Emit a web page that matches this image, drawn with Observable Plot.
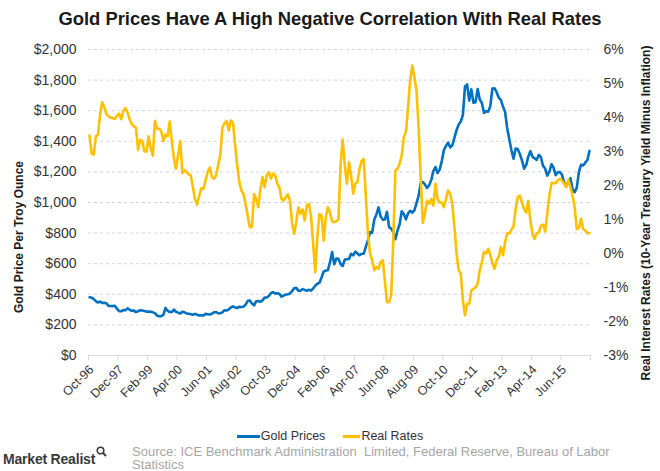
<!DOCTYPE html>
<html>
<head>
<meta charset="utf-8">
<script src="https://cdn.jsdelivr.net/npm/d3@7"></script>
<script src="https://cdn.jsdelivr.net/npm/@observablehq/plot@0.6"></script>
<style>
  body { margin: 0; background: #fff; font-family: "Liberation Sans", Arial, sans-serif; }
  #wrap { position: relative; width: 660px; height: 471px; overflow: hidden; background: #fff; }
  #title { position: absolute; top: 0; left: 0; width: 660px; height: 36px; line-height: 37px; text-align: center;
           font-weight: bold; font-size: 18.4px; color: #1a1a1a; white-space: nowrap; }
  #chart { position: absolute; top: 36px; left: 0; }
  .ytitle { position: absolute; font-weight: bold; font-size: 12px; color: #1a1a1a; white-space: nowrap;
            transform: translate(-50%, -50%) rotate(-90deg); }
  #legend { position: absolute; top: 429px; left: 0; width: 660px; height: 15px; line-height: 15px; display: flex; justify-content: center;
            align-items: center; font-size: 12.5px; color: #333; }
  .sw { display: inline-block; width: 23px; height: 3px; margin-right: 1px; }
  #logo { position: absolute; left: 3px; top: 446px; font-size: 14px; color: #3a3a3a; letter-spacing: -0.2px; font-weight: 600; white-space: nowrap; }
  #source { position: absolute; left: 132px; top: 444.5px; width: 520px; font-family: "Liberation Sans", Arial, sans-serif;
            font-size: 13px; line-height: 13.5px; color: #a6a6a6; white-space: nowrap; }
</style>
</head>
<body>
<div id="wrap">
  <div id="title">Gold Prices Have A High Negative Correlation With Real Rates</div>
  <div id="chart"></div>
  <div class="ytitle" style="left:19px; top:237px;">Gold Price Per Troy Ounce</div>
  <div class="ytitle" style="left:646px; top:213px;">Real Interest Rates (10-Year Treasury Yield Minus Inflation)</div>
  <div id="legend">
    <span class="sw" style="background:#0070C0"></span><span>Gold Prices</span>
    <span style="display:inline-block;width:18px"></span>
    <span class="sw" style="background:#FFC000;width:17px"></span><span>Real Rates</span>
  </div>
  <div id="logo">Market Realist<svg width="11" height="11" style="vertical-align:7px;margin-left:1px"><circle cx="4.5" cy="4.5" r="3.3" fill="none" stroke="#3a3a3a" stroke-width="1.6"/><line x1="7" y1="7" x2="10" y2="10" stroke="#3a3a3a" stroke-width="2"/></svg></div>
  <div id="source">Source: ICE Benchmark Administration&nbsp; Limited, Federal Reserve, Bureau of Labor<br>Statistics</div>
</div>
<script>
// Monthly categories: Oct-1996 .. Jul-2016
const months = d3.utcMonths(new Date(Date.UTC(1996, 9, 1)), new Date(Date.UTC(2016, 7, 1)));

// Gold price, US$ per troy ounce (monthly)
const goldPrices = [
  381, 378, 369,
  355, 346, 352, 344, 344, 341, 324, 324, 323, 325, 306, 289,
  289, 297, 296, 308, 299, 292, 293, 284, 289, 296, 294, 291,
  287, 287, 286, 282, 277, 261, 256, 257, 265, 311, 293, 284,
  284, 300, 286, 280, 275, 286, 282, 275, 273, 270, 266, 272,
  266, 262, 263, 261, 272, 270, 268, 273, 283, 283, 276, 276,
  282, 296, 294, 302, 314, 321, 314, 310, 319, 317, 319, 333,
  357, 359, 340, 328, 355, 356, 351, 360, 379, 379, 389, 407,
  414, 405, 406, 404, 384, 392, 398, 400, 405, 420, 439, 442,
  424, 423, 434, 429, 422, 430, 424, 438, 456, 469, 476, 510,
  549, 555, 557, 610, 676, 596, 633, 632, 598, 585, 627, 629,
  631, 665, 655, 679, 667, 655, 665, 665, 712, 754, 806, 803,
  889, 922, 968, 909, 888, 889, 939, 839, 829, 806, 760, 816,
  858, 943, 924, 890, 929, 946, 934, 949, 996, 1043, 1127, 1134,
  1118, 1095, 1113, 1148, 1205, 1232, 1193, 1215, 1271, 1343, 1370, 1391,
  1360, 1374, 1424, 1473, 1510, 1529, 1573, 1759, 1772, 1666, 1739, 1652,
  1656, 1742, 1673, 1650, 1585, 1596, 1594, 1630, 1745, 1747, 1721, 1685,
  1671, 1627, 1593, 1487, 1414, 1343, 1286, 1352, 1349, 1317, 1275, 1221,
  1244, 1300, 1336, 1299, 1288, 1279, 1311, 1296, 1239, 1222, 1176, 1201,
  1250, 1227, 1179, 1198, 1199, 1181, 1128, 1118, 1125, 1159, 1086, 1068,
  1097, 1200, 1246, 1242, 1260, 1276, 1337
];

// Real rates, % (10-year Treasury yield minus inflation)
const realRates = [
  3.47, 2.93, 2.91, 3.45, 3.5, 4.1, 4.45, 4.3, 4.1, 4.03,
  4.0, 3.98, 3.96, 4.05, 4.11, 3.95, 4.19, 4.28, 4.15, 3.95,
  3.8, 3.74, 3.7, 3.05, 3.34, 3.3, 3.0, 3.0, 3.45, 3.1,
  2.88, 3.9, 3.67, 3.67, 3.6, 3.3, 3.5, 3.45, 3.88, 3.3,
  2.8, 2.49, 2.9, 3.3, 2.36, 2.45, 2.4, 2.33, 2.29, 1.95,
  1.6, 1.44, 1.7, 1.92, 1.9, 2.15, 2.4, 2.53, 2.25, 2.2,
  2.3, 2.6, 2.9, 3.72, 3.83, 3.9, 3.62, 3.91, 3.85, 3.2,
  2.6, 2.1, 1.85, 1.75, 1.45, 1.1, 0.77, 0.78, 1.75, 1.6,
  1.36, 1.9, 2.25, 1.95, 2.3, 2.39, 2.2, 2.35, 2.3, 2.05,
  1.95, 1.6, 1.55, 1.65, 1.74, 1.55, 0.9, 0.58, 0.92, 1.36,
  1.17, 1.3, 0.97, 1.41, 1.46, 1.1, 0.3, -0.55, 0.5, 1.16,
  1.12, 0.38, 1.07, 1.36, 1.2, 0.95, 0.92, 0.95, 1.0, 2.6,
  3.35, 2.6, 2.05, 2.69, 2.3, 1.76, 2.05, 2.1, 2.49, 2.73,
  2.78, 1.66, 0.58, 0.0, -0.2, -0.49, -0.4, -0.45, -0.25, -0.2,
  -0.8, -1.43, -1.43, -1.23, 0.38, 2.44, 2.49, 2.64, 2.88, 3.42,
  3.57, 4.3, 5.09, 5.53, 5.19, 4.8, 3.7, 2.2, 0.9, 1.17,
  1.55, 1.46, 1.6, 1.41, 2.05, 1.6, 1.5, 1.5, 1.36, 1.61,
  1.85, 1.75, 1.46, 0.77, 0.0, -0.49, -0.59, -1.38, -1.82, -1.48,
  -1.48, -1.09, -1.04, -1.0, -0.89, -0.49, -0.25, 0.04, 0.0, 0.14,
  -0.05, -0.28, -0.45, -0.2, -0.1, 0.19, -0.05, 0.33, 0.6, 0.58,
  0.7, 0.8, 1.3, 1.66, 1.7, 1.5, 1.31, 1.2, 1.55, 0.97,
  0.58, 0.43, 0.6, 0.62, 0.82, 0.85, 0.65, 1.17, 1.7, 2.07,
  2.07, 2.07, 2.15, 2.2, 2.15, 2.05, 1.95, 2.17, 1.95, 1.7,
  1.36, 0.72, 0.75, 1.02, 0.72, 0.68, 0.6, 0.6
];

// Axis tick labels
const xTickLabels = ["Oct-96","Dec-97","Feb-99","Apr-00","Jun-01","Aug-02","Oct-03","Dec-04","Feb-06",
                     "Apr-07","Jun-08","Aug-09","Oct-10","Dec-11","Feb-13","Apr-14","Jun-15"];
const xTickEvery = 14;
const goldTicks = [0, 200, 400, 600, 800, 1000, 1200, 1400, 1600, 1800, 2000];
const rateTicks = [-3, -2, -1, 0, 1, 2, 3, 4, 5, 6];

// Map the right-axis (rates) domain [-3, 6] onto the left-axis domain [0, 2000]
const goldMax = 2000, rateMin = -3, rateMax = 6;
const rateToY = r => (r - rateMin) / (rateMax - rateMin) * goldMax;

const data = months.map((m, i) => ({ i, month: m, gold: goldPrices[i], rate: realRates[i] }));
const n = data.length;
const tickData = xTickLabels.map((label, k) => ({ label, pos: k * xTickEvery + 0.5 }));
const boundaries = d3.range(0, n + 1, xTickEvery);

const textColor = "#333";
const chart = Plot.plot({
  width: 660,
  height: 390,
  marginTop: 13,
  marginBottom: 71,
  marginLeft: 88,
  marginRight: 70,
  style: { fontFamily: "'Liberation Sans', Arial, sans-serif", color: textColor, background: "transparent" },
  x: { domain: [0, n], axis: null, label: null },
  y: { domain: [0, goldMax], axis: null, label: null },
  marks: [
    Plot.ruleY(goldTicks.filter(d => d > 0), { stroke: "#d4d4d4", strokeDasharray: "3,3", strokeWidth: 1 }),
    Plot.ruleY([0], { stroke: "#d9d9d9", strokeWidth: 1 }),
    Plot.axisX({ ticks: boundaries, tickSize: 5, tickFormat: () => "", stroke: "#d9d9d9", label: null }),
    Plot.text(tickData, { x: "pos", y: () => 0, text: "label", rotate: -45, textAnchor: "end", dy: 12, dx: 2, fontSize: 12.5, fill: textColor }),
    Plot.axisY({ anchor: "left", ticks: goldTicks, tickSize: 0, tickPadding: 12, fontSize: 14, label: null,
                 tickFormat: d => "$" + d3.format(",")(d) }),
    Plot.axisY({ anchor: "right", ticks: rateTicks.map(rateToY), tickSize: 0, tickPadding: 13, fontSize: 14, label: null,
                 tickFormat: d => Math.round(d / goldMax * (rateMax - rateMin) + rateMin) + "%" }),
    Plot.lineY(data, { x: d => d.i + 0.5, y: "gold", stroke: "#0070C0", strokeWidth: 2.6, strokeLinejoin: "round" }),
    Plot.lineY(data, { x: d => d.i + 0.5, y: d => rateToY(d.rate), stroke: "#FFC000", strokeWidth: 2.6, strokeLinejoin: "round" })
  ]
});
document.getElementById("chart").appendChild(chart);
</script>
</body>
</html>
